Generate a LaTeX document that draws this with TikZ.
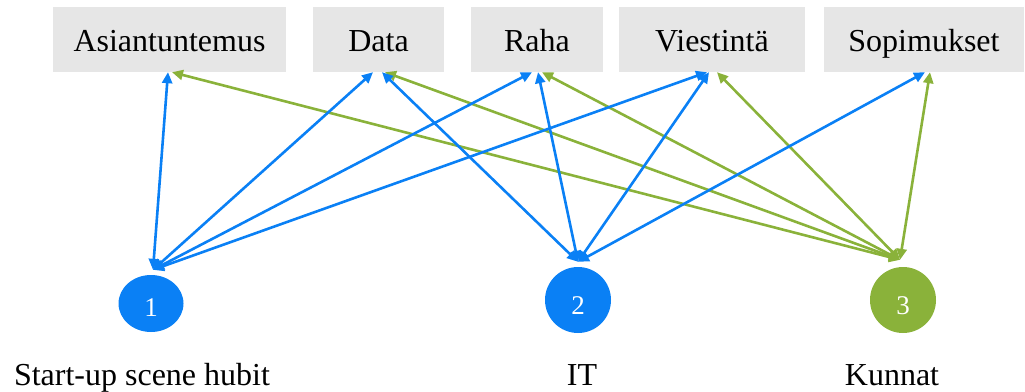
\documentclass[tikz,border=0pt]{standalone}
\usepackage{fontspec}
\setmainfont{Liberation Serif}
\usetikzlibrary{arrows.meta,shapes.geometric}
\definecolor{hubblue}{HTML}{0A80F5}
\definecolor{hubgreen}{HTML}{8AB23A}
\definecolor{boxgray}{HTML}{E6E6E6}
\tikzset{
  topic/.style={fill=boxgray, inner sep=0pt, minimum height=65pt,
    text height=23pt, text depth=0pt, font=\fontsize{32}{36}\selectfont},
  hub/.style={circle, minimum size=66pt, inner sep=0pt, text=white,
    text height=28.5pt, text depth=0pt, font=\fontsize{27}{30}\selectfont},
  caption/.style={anchor=base, inner sep=0pt, font=\fontsize{32}{36}\selectfont},
  link/.style={line width=2.6pt,
    {Triangle[length=11pt,width=10pt]}-{Triangle[length=11pt,width=10pt]}},
  bl/.style={link, draw=hubblue, fill=hubblue},
  gr/.style={link, draw=hubgreen, fill=hubgreen}
}
\begin{document}
\begin{tikzpicture}[x=1pt,y=-1pt]
\useasboundingbox (0,0) rectangle (1025,391);

% resource boxes
\node[topic, minimum width=233pt] (asia) at (169.5,39.5) {Asiantuntemus};
\node[topic, minimum width=131pt] (data) at (378.5,39.5) {Data};
\node[topic, minimum width=132pt] (raha) at (537,39.5) {Raha};
\node[topic, minimum width=186pt] (viest) at (712,39.5) {Viestintä};
\node[topic, minimum width=200pt] (sopi) at (924,39.5) {Sopimukset};

% actor circles
\node[hub, ellipse, minimum width=65pt, minimum height=57pt, fill=hubblue, text height=26pt] (c1) at (151,303.5) {1};
\node[hub, fill=hubblue] (c2) at (578,300) {2};
\node[hub, fill=hubgreen] (c3) at (903,300) {3};

% captions
\node[caption] (l1) at (142,385) {Start-up scene hubit};
\node[caption] (l2) at (582,385) {IT};
\node[caption] (l3) at (892,385) {Kunnat};

% connector meeting points above the circles
\coordinate (p1) at ([xshift=2pt,yshift=5pt]c1.north);
\coordinate (p2) at ([yshift=5pt]c2.north);
\coordinate (p3) at ([xshift=-3pt,yshift=7pt]c3.north);

% Kunnat links
\draw[gr] (p3) -- ([xshift=2.5pt]asia.south);
\draw[gr] (p3) -- ([xshift=6.5pt]data.south);
\draw[gr] (p3) -- ([xshift=5pt]raha.south);
\draw[gr] (p3) -- ([xshift=5pt]viest.south);
\draw[gr] (p3) -- ([xshift=6pt]sopi.south);

% Start-up scene hubit links
\draw[bl] (p1) -- ([xshift=-1.5pt]asia.south);
\draw[bl] (p1) -- ([xshift=-5.5pt]data.south);
\draw[bl] (p1) -- ([xshift=-5pt]raha.south);
\draw[bl] (p1) -- ([xshift=-5pt]viest.south);

% IT links
\draw[bl] (p2) -- ([xshift=3.5pt]data.south);
\draw[bl] (p2) -- ([xshift=1pt]raha.south);
\draw[bl] (p2) -- ([xshift=-3pt]viest.south);
\draw[bl] (p2) -- ([xshift=1pt]sopi.south);
\end{tikzpicture}
\end{document}
